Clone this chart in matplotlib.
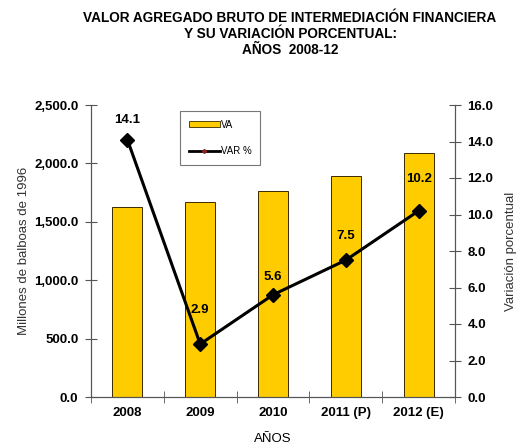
import matplotlib
matplotlib.use("Agg")
import matplotlib.pyplot as plt
from matplotlib.lines import Line2D
from matplotlib.patches import Patch

categories = ["2008", "2009", "2010", "2011 (P)", "2012 (E)"]
va = [1627, 1670, 1764, 1892, 2089]
var_pct = [14.1, 2.9, 5.6, 7.5, 10.2]

plt.rcParams['font.family'] = ['Liberation Sans', 'DejaVu Sans']

fig = plt.figure(figsize=(5.18, 4.47), dpi=100)
ax = fig.add_axes([91/518, 1-397/447, (455-91)/518, (397-105)/447])
ax2 = ax.twinx()

bar_color = '#FFCC00'
x = list(range(len(categories)))
ax.bar(x, va, width=0.41, color=bar_color, edgecolor='#3a2a00', linewidth=0.7, zorder=2)
ax.set_xlim(-0.5, len(categories)-0.5)
ax.set_ylim(0, 2500)
yt = [0, 500, 1000, 1500, 2000, 2500]
ax.set_yticks(yt)
ax.set_yticklabels([f"{v:,.1f}" for v in yt])
ax.set_xticks(x)
ax.set_xticklabels(categories)
ax.set_xticks([i - 0.5 for i in range(len(categories)+1)], minor=True)
ax.tick_params(axis='x', which='major', length=0, pad=7, labelsize=9.5)
ax.tick_params(axis='x', which='minor', length=8, direction='inout', color='#555555')
ax.tick_params(axis='y', length=8, direction='inout', color='#555555', labelsize=9.5, pad=5)
for lab in ax.get_xticklabels() + ax.get_yticklabels():
    lab.set_fontweight('bold')

ax.spines['top'].set_visible(False)
ax2.spines['top'].set_visible(False)
for s in ['left', 'bottom', 'right']:
    ax.spines[s].set_color('#555555')
    ax2.spines[s].set_color('#555555')

ax2.plot(x, var_pct, color='black', linewidth=2.2, marker='D', markersize=7, zorder=3)
ax2.set_ylim(0, 16)
y2t = [0, 2, 4, 6, 8, 10, 12, 14, 16]
ax2.set_yticks(y2t)
ax2.set_yticklabels([f"{v:.1f}" for v in y2t])
ax2.tick_params(axis='y', length=8, direction='inout', color='#555555', labelsize=9.5, pad=5)
for lab in ax2.get_yticklabels():
    lab.set_fontweight('bold')

label_offsets = [1.1, 1.85, 0.95, 1.3, 1.75]
for xi, v, o in zip(x, var_pct, label_offsets):
    ax2.text(xi, v + o, f"{v:.1f}", ha='center', va='center', fontsize=9.5, fontweight='bold', zorder=4)

ax.set_ylabel("Millones de balboas de 1996", fontsize=9.5, color='#333333', labelpad=3)
ax2.set_ylabel("Variación porcentual", fontsize=9.5, color='#333333', labelpad=8)
ax.set_xlabel("AÑOS", fontsize=9.5, labelpad=10)

fig.text(290/518, 1-11/447, "VALOR AGREGADO BRUTO DE INTERMEDIACIÓN FINANCIERA\nY SU VARIACIÓN PORCENTUAL:\nAÑOS  2008-12",
         ha='center', va='top', fontsize=9.8, fontweight='bold', linespacing=1.2)

handles = [Patch(facecolor=bar_color, edgecolor='#3a2a00', linewidth=0.6),
           Line2D([], [], color='black', linewidth=2, marker='D', markersize=2, markerfacecolor='#8b2020', markeredgecolor='#8b2020')]
leg = fig.legend(handles, ["VA", "VAR %"], loc='upper left', bbox_to_anchor=(175/518, 1-106/447),
                 fontsize=7, frameon=True, fancybox=False, edgecolor='#555555', handlelength=3.2,
                 handleheight=0.5, labelspacing=1.7, borderpad=0.9, handletextpad=0.1)
leg.get_frame().set_linewidth(0.8)

fig.savefig("out.png", dpi=100)
